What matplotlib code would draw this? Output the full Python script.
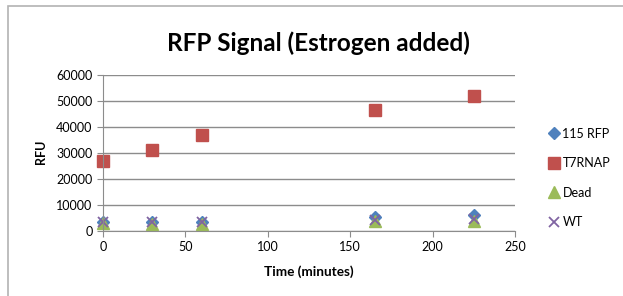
import matplotlib.pyplot as plt
from matplotlib.patches import Rectangle

plt.rcParams['font.family'] = ['Lato', 'DejaVu Sans']

# data
time_min = [0, 30, 60, 165, 225]
rfp115 = [3600, 3500, 3500, 5200, 6200]
t7rnap = [26800, 31000, 36800, 46500, 51800]
dead = [2900, 2800, 2800, 3700, 4000]
wt = [3500, 3300, 3300, 4300, 4600]

fig = plt.figure(figsize=(6.23, 2.96), dpi=100)
fig.patch.set_facecolor('white')

# chart border (cut off on right and bottom)
fig.patches.append(Rectangle((8/623, -0.2), 2, 0.2 + 1 - 6/296, transform=fig.transFigure,
                             fill=False, edgecolor='#b3b3b3', linewidth=1.2))

ax = fig.add_axes([103/623, (296-231)/296, 412/623, 156/296])
ax.plot(time_min, rfp115, linestyle='none', marker='D', markersize=6.5, color='#4f81bd',
        label='115 RFP', clip_on=False)
ax.plot(time_min, t7rnap, linestyle='none', marker='s', markersize=9, color='#c0504d',
        label='T7RNAP', clip_on=False)
ax.plot(time_min, dead, linestyle='none', marker='^', markersize=8, color='#9bbb59',
        label='Dead', clip_on=False)
ax.plot(time_min, wt, linestyle='none', marker='x', markersize=7, mew=1.3, color='#8064a2',
        label='WT', clip_on=False)

ax.set_xlim(0, 250)
ax.set_ylim(0, 60000)
ax.set_xticks(range(0, 251, 50))
ax.set_yticks(range(0, 60001, 10000))
ax.grid(axis='y', color='#8c8c8c', linewidth=1)
ax.set_axisbelow(True)
for s in ['top', 'right']:
    ax.spines[s].set_visible(False)
for s in ['left', 'bottom']:
    ax.spines[s].set_color('#8c8c8c')
ax.tick_params(colors='#8c8c8c', labelcolor='black', labelsize=9, length=4, direction='out')

fig.text(318/623, 1 - 43/296, 'RFP Signal (Estrogen added)', fontsize=17.5,
         fontweight='bold', ha='center', va='center')
fig.text(309/623, 1 - 272/296, 'Time (minutes)', fontsize=9.8, fontweight='bold',
         ha='center', va='center')
fig.text(41/623, 1 - 152/296, 'RFU', fontsize=9, fontweight='bold', rotation=90,
         ha='center', va='center')

fig.legend(loc='center left', bbox_to_anchor=(545/623, 1 - 178/296), frameon=False,
           fontsize=9, labelspacing=1.4, handlelength=0.7, handletextpad=0.3,
           borderaxespad=0)

fig.savefig('out.png', dpi=100)
